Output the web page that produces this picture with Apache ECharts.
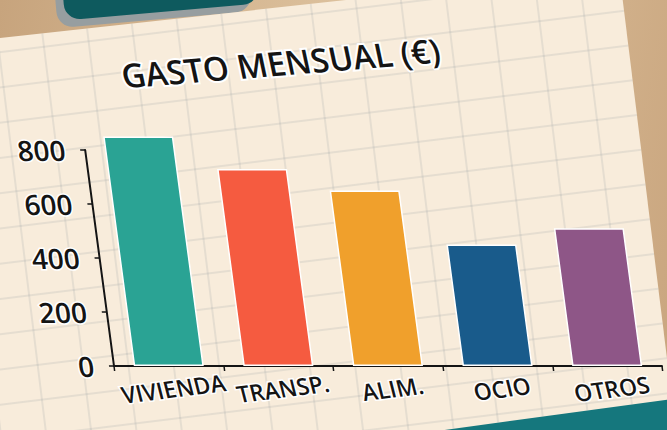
<!DOCTYPE html>
<html>
<head>
<meta charset="utf-8">
<script src="https://cdn.jsdelivr.net/npm/echarts@6/dist/echarts.min.js"></script>
<style>
html,body{margin:0;padding:0;width:667px;height:430px;overflow:hidden;}
body{position:relative;background:linear-gradient(100deg,#c7a47d 0%,#dcc09c 45%,#d2b28c 80%,#c9a57e 100%);}
#tealTop{position:absolute;left:62px;top:-52px;width:195px;height:64px;background:#0e5a5e;border-radius:16px;transform:rotate(-5deg);box-shadow:-8px 7px 0 #979ea0;}
#tealBot{position:absolute;left:380px;top:392px;width:360px;height:120px;background:#15777d;border-top:3px solid #2b9ca2;transform:rotate(-7.5deg);}
#paper{position:absolute;left:0;top:0;width:667px;height:430px;background:#f8ecdb;overflow:hidden;
  clip-path:polygon(0 38px,619px -30px,672px 399px,430px 432px,0 432px);}
#paperGrid{position:absolute;left:-200px;top:-200px;width:1100px;height:900px;transform:rotate(-7deg);
  background-image:linear-gradient(to right,rgba(150,158,160,.19) 2px,transparent 2px),linear-gradient(to bottom,rgba(150,158,160,.19) 2px,transparent 2px);
  background-size:45px 35px;}
#chart{position:absolute;left:0;top:0;width:667px;height:430px;transform-origin:0 366px;transform:skewX(7.6deg);}
</style>
</head>
<body>
<div id="tealTop"></div>
<div id="tealBot"></div>
<div id="paper"><div id="paperGrid"></div></div>
<div id="chart"></div>
<script>
const titleText = 'GASTO MENSUAL (€)';
const categories = ['VIVIENDA', 'TRANSP.', 'ALIM.', 'OCIO', 'OTROS'];
const values = [850, 730, 650, 450, 510];
const barColors = ['#2aa394', '#f55b40', '#f0a02c', '#195b8b', '#8e5687'];
const yMin = 0, yMax = 800, yStep = 200;

const chart = echarts.init(document.getElementById('chart'), null, {renderer: 'svg'});
const ink = '#141414';
const font = '"Open Sans", "DejaVu Sans", sans-serif';
chart.setOption({
  animation: false,
  backgroundColor: 'transparent',
  grid: {left: 114, width: 548, top: 150, bottom: 64},
  xAxis: {
    type: 'category',
    data: categories,
    axisLine: {lineStyle: {color: ink, width: 2}},
    axisTick: {show: true, length: 5, lineStyle: {color: ink, width: 1.5}},
    axisLabel: {
      interval: 0, hideOverlap: false,
      color: ink, fontFamily: font, fontWeight: 600, fontSize: 23, margin: 11,
      rotate: 7, align: 'center', verticalAlign: 'top',
      textBorderColor: '#ffffff', textBorderWidth: 3
    }
  },
  yAxis: {
    type: 'value', min: yMin, max: yMax, interval: yStep,
    axisLine: {show: true, lineStyle: {color: ink, width: 2}},
    axisTick: {show: true, length: 5, lineStyle: {color: ink, width: 1.5}},
    splitLine: {show: false},
    axisLabel: {
      color: ink, fontFamily: font, fontWeight: 600, fontSize: 28, margin: 20,
      textBorderColor: '#ffffff', textBorderWidth: 3
    }
  },
  series: [{
    type: 'bar',
    clip: false,
    barWidth: 70,
    data: values.map((v, i) => ({value: v, itemStyle: {color: barColors[i]}})),
    itemStyle: {borderColor: '#ffffff', borderWidth: 1.5}
  }],
  graphic: [{
    type: 'text',
    x: 321, y: 63,
    rotation: 0.08,
    style: {
      text: titleText,
      font: '600 33px "Open Sans", "DejaVu Sans", sans-serif',
      fill: ink,
      stroke: '#ffffff', lineWidth: 4,
      align: 'center', verticalAlign: 'middle'
    }
  }]
});
</script>
</body>
</html>
